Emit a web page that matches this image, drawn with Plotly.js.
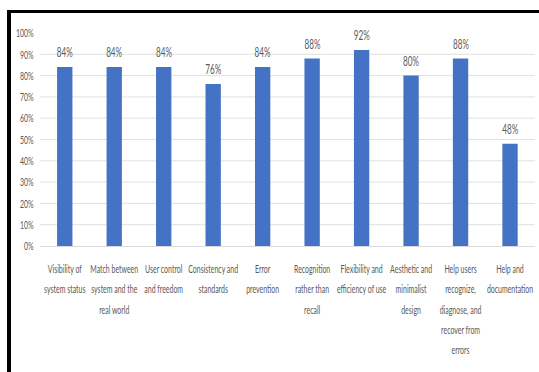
<!DOCTYPE html>
<html>
<head>
<meta charset="utf-8">
<script src="https://cdn.plot.ly/plotly-3.0.1.min.js"></script>
<style>
  html, body { margin: 0; padding: 0; background: #fff; overflow: hidden; }
  #frame {
    position: absolute; left: 7px; top: 10px; right: 0; bottom: 0;
    border-left: 4px solid #000; border-top: 3px solid #000;
    pointer-events: none; z-index: 5;
  }
  #wrap { position: absolute; left: 0; top: 0; transform-origin: 0 0; }
</style>
</head>
<body>
<div id="wrap"><div id="chart"></div></div>
<div id="frame"></div>
<script>
// Heuristic evaluation scores per principle (percent)
const categories = [
  "Visibility of system status",
  "Match between system and the real world",
  "User control and freedom",
  "Consistency and standards",
  "Error prevention",
  "Recognition rather than recall",
  "Flexibility and efficiency of use",
  "Aesthetic and minimalist design",
  "Help users recognize, diagnose, and recover from errors",
  "Help and documentation"
];
const tickLines = [
  ["Visibility of", "system status"],
  ["Match between", "system and the", "real world"],
  ["User control", "and freedom"],
  ["Consistency and", "standards"],
  ["Error", "prevention"],
  ["Recognition", "rather than", "recall"],
  ["Flexibility and", "efficiency of use"],
  ["Aesthetic and", "minimalist", "design"],
  ["Help users", "recognize,", "diagnose, and", "recover from", "errors"],
  ["Help and", "documentation"]
];
const values = [84, 84, 84, 76, 84, 88, 92, 80, 88, 48];
const yTicks = [0, 10, 20, 30, 40, 50, 60, 70, 80, 90, 100];

// The chart is laid out wide and then squeezed horizontally
const squeeze = 0.58;
const W = 539 / squeeze, H = 372;
document.getElementById('wrap').style.transform = 'scaleX(' + squeeze + ')';

const textColor = '#595959';
const font = 'Lato, "Liberation Sans", Arial, sans-serif';

const tickText = tickLines.map(lines =>
  lines.map(l => '<span style="font-size:12px">' + l + '</span>').join('<br>'));

const annotations = categories.map((c, i) => ({
  x: c, y: values[i], xref: 'x', yref: 'y',
  text: values[i] + '%', showarrow: false,
  yanchor: 'bottom', yshift: 5,
  font: { family: font, size: 14, color: textColor }
}));

const trace = {
  type: 'bar',
  x: categories,
  y: values,
  marker: { color: '#4472C4' },
  hoverinfo: 'none'
};

const layout = {
  width: W, height: H,
  margin: { l: 40 / squeeze, r: 4 / squeeze, t: 33, b: 125.5 },
  paper_bgcolor: '#fff', plot_bgcolor: '#fff',
  showlegend: false,
  bargap: 0.69,
  font: { family: font, color: textColor },
  xaxis: {
    type: 'category',
    tickmode: 'array', tickvals: categories, ticktext: tickText,
    tickfont: { family: font, size: 15.4, color: textColor },
    tickangle: 0,
    showgrid: false, zeroline: false,
    showline: true, linecolor: '#d0d0d0', linewidth: 1,
    ticks: '', ticklabelstandoff: 8,
    fixedrange: true
  },
  yaxis: {
    range: [0, 100],
    tickmode: 'array', tickvals: yTicks,
    ticktext: yTicks.map(v => v + '%'),
    tickfont: { family: font, size: 12, color: textColor },
    showgrid: true, gridcolor: '#d9d9d9', gridwidth: 1,
    zeroline: false, showline: false,
    ticks: '', ticklabelstandoff: 10,
    fixedrange: true
  },
  annotations: annotations
};

Plotly.newPlot('chart', [trace], layout, { displayModeBar: false, staticPlot: true });
</script>
</body>
</html>
